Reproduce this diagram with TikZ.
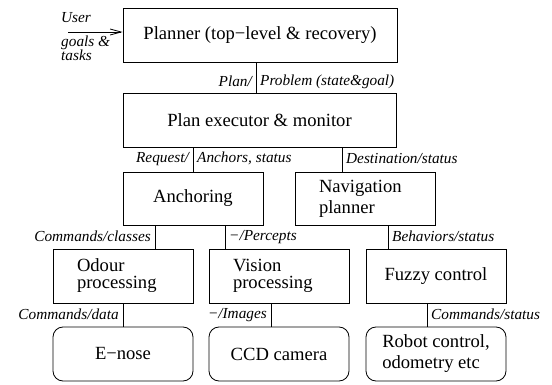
\documentclass[tikz,border=0pt]{standalone}
\usepackage{fontspec}
\setmainfont{Liberation Serif}
\usetikzlibrary{arrows.meta}
\begin{document}
\begin{tikzpicture}[x=1pt,y=-1pt,
  box/.style={draw, line width=0.8pt, inner sep=0pt, font=\fontsize{18.6}{21}\selectfont, align=center},
  rbox/.style={box, rounded corners=10pt},
  lbox/.style={box, align=left, text width=92pt, inner xsep=24pt, inner ysep=0pt},
  lbl/.style={font=\fontsize{15.3}{17}\itshape, inner xsep=4pt, inner ysep=0pt},
  conn/.style={line width=0.8pt}]
\useasboundingbox (0,0) rectangle (552,385);
% boxes
\node[box, minimum width=274pt, minimum height=54pt] (planner) at (260,35) {Planner (top\textminus level \& recovery)};
\node[box, minimum width=273pt, minimum height=54pt] (exec) at (259.5,120) {Plan executor \& monitor};
\node[box, minimum width=140pt, minimum height=53pt] (anch) at (193,198.5) {Anchoring};
\node[lbox, minimum height=53pt] (nav) at (365,198.5) {Navigation\\planner};
\node[lbox, minimum height=54pt, font=\fontsize{18.6}{17}\selectfont] (odour) at (123,276) {Odour\\processing};
\node[lbox, minimum height=54pt, font=\fontsize{18.6}{17}\selectfont] (vision) at (279,276) {Vision\\processing};
\node[box, minimum width=140pt, minimum height=54pt] (fuzzy) at (436,276) {Fuzzy control};
\node[rbox, minimum width=140pt, minimum height=54pt] (enose) at (123,354) {E\textminus nose};
\node[rbox, minimum width=140pt, minimum height=54pt] (ccd) at (279,354) {CCD camera};
\node[rbox, minimum width=140pt, minimum height=54pt, align=left] (robot) at (436,354) {Robot control,\\odometry etc};
% connector x positions
\coordinate (c1) at (256,0);
\coordinate (c2) at (193,0);
\coordinate (c3) at (342,0);
\coordinate (c4) at (155,0);
\coordinate (c5) at (225,0);
\coordinate (c6) at (388,0);
\coordinate (c7) at (123,0);
\coordinate (c8) at (271,0);
\coordinate (c9) at (427,0);
\draw[conn] (planner.south -| c1) -- (exec.north -| c1);
\draw[conn] (exec.south -| c2) -- (anch.north -| c2);
\draw[conn] (exec.south -| c3) -- (nav.north -| c3);
\draw[conn] (anch.south -| c4) -- (odour.north -| c4);
\draw[conn] (anch.south -| c5) -- (vision.north -| c5);
\draw[conn] (nav.south -| c6) -- (fuzzy.north -| c6);
\draw[conn] (odour.south -| c7) -- (enose.north -| c7);
\draw[conn] (vision.south -| c8) -- (ccd.north -| c8);
\draw[conn] (fuzzy.south -| c9) -- (robot.north -| c9);
% labels
\path (exec.north -| c1) ++(0,-11) node[lbl, anchor=east] (l1a) {Plan/} node[lbl, anchor=west] (l1b) {Problem (state\&goal)};
\path (anch.north -| c2) ++(0,-13) node[lbl, anchor=east] (l2a) {Request/} node[lbl, anchor=west] (l2b) {Anchors, status};
\path (nav.north -| c3) ++(0,-13) node[lbl, anchor=west] (l3) {Destination/status};
\path (odour.north -| c4) ++(0,-12) node[lbl, anchor=east] (l4) {Commands/classes};
\path (vision.north -| c5) ++(0,-12) node[lbl, anchor=west] (l5) {\textminus/Percepts};
\path (fuzzy.north -| c6) ++(0,-12) node[lbl, anchor=west] (l6) {Behaviors/status};
\path (enose.north -| c7) ++(0,-12) node[lbl, anchor=east] (l7) {Commands/data};
\path (ccd.north -| c8) ++(0,-12) node[lbl, anchor=east] (l8) {\textminus/Images};
\path (robot.north -| c9) ++(0,-12) node[lbl, anchor=west] (l9) {Commands/status};
% user input
\coordinate (u) at (68,32);
\draw[conn, -{Straight Barb[length=11pt,width=6pt]}] (u) -- (u -| planner.west);
\node[lbl, anchor=west, inner xsep=0pt] (user) at (61,18) {User};
\node[lbl, anchor=north west, inner xsep=0pt, align=left, font=\fontsize{15.3}{14}\itshape] (goals) at (61,36) {goals \&\\tasks};
\end{tikzpicture}
\end{document}
